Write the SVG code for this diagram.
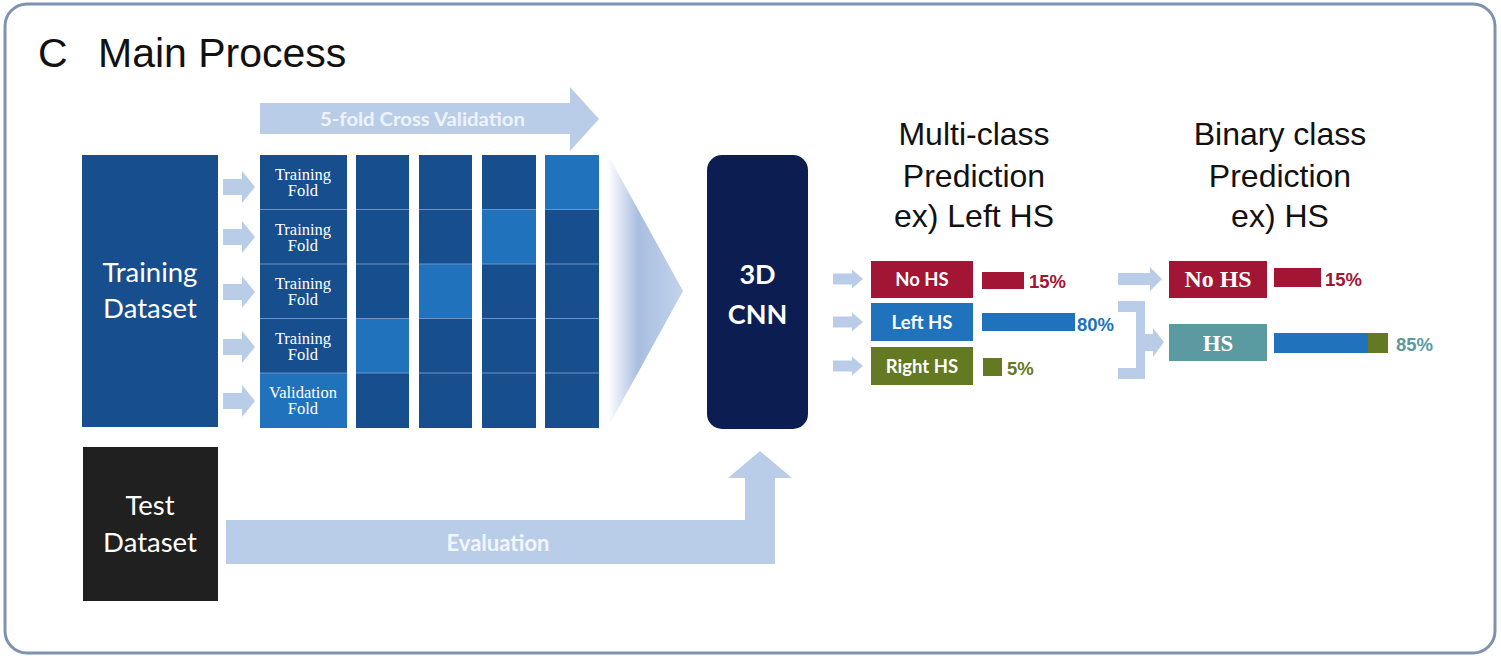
<svg xmlns="http://www.w3.org/2000/svg" width="1501" height="658" viewBox="0 0 1501 658">
<style>
.sans{font-family:"Liberation Sans",Arial,sans-serif}
.cal{font-family:Lato,"Open Sans",sans-serif}
.ser{font-family:"Liberation Serif","Times New Roman",serif}
.arr{fill:#b9cde9}
.dark{fill:#174e8e}
.light{fill:#2072bd}
.head{font-size:32px;fill:#111;text-anchor:middle}
.fold{font-size:16.5px;fill:#ffffff;text-anchor:middle}
.lbl{font-size:18.5px;font-weight:bold;fill:#ffffff;text-anchor:middle}
.pct{font-size:18.5px;font-weight:bold}
.sep{stroke:#6f93c6;stroke-width:1}
</style>
<defs>
<linearGradient id="chev" x1="608" y1="0" x2="683" y2="0" gradientUnits="userSpaceOnUse">
<stop offset="0" stop-color="#ffffff"/>
<stop offset="0.4" stop-color="#a9bee0"/>
<stop offset="1" stop-color="#c2d3ec"/>
</linearGradient>
<path id="sa" d="M0,-8 H19 V-16 L32,0 L19,16 V8 H0 Z"/>
<path id="ma" d="M0,-5.5 H19 V-9.5 L30,0 L19,9.5 V5.5 H0 Z"/>
</defs>
<rect x="5" y="4" width="1490" height="649" rx="22" fill="#ffffff" stroke="#7d93b2" stroke-width="3"/>
<text x="38" y="67" class="sans" font-size="41" fill="#111">C</text>
<text x="98" y="67" class="sans" font-size="41" fill="#111">Main Process</text>

<g id="connectors">
<path class="arr" d="M260,103 H570 V87 L599,119 L570,151 V134 H260 Z"/>
<text x="422.5" y="126" class="cal" font-size="19" font-weight="bold" fill="#eef3fa" text-anchor="middle" textLength="205" lengthAdjust="spacingAndGlyphs">5-fold Cross Validation</text>
<use href="#sa" class="arr" x="223" y="187"/>
<use href="#sa" class="arr" x="223" y="237"/>
<use href="#sa" class="arr" x="223" y="292"/>
<use href="#sa" class="arr" x="223" y="347"/>
<use href="#sa" class="arr" x="223" y="401"/>
<polygon points="608,155 683,291 608,427" fill="url(#chev)"/>
<path class="arr" d="M226,520 H745 V478 H728 L760,451 L792,478 H775 V564 H226 Z"/>
<text x="498" y="551" class="cal" font-size="22" font-weight="bold" fill="#f2f6fb" text-anchor="middle">Evaluation</text>
<use href="#ma" class="arr" x="833" y="279"/>
<use href="#ma" class="arr" x="833" y="322"/>
<use href="#ma" class="arr" x="833" y="366"/>
<path class="arr" d="M1118,273 H1150 V267 L1162,279 L1150,291 V285 H1118 Z"/>
<path class="arr" d="M1118,301 H1145 V334 H1153 V328 L1164,342 L1153,357 V351 H1145 V379 H1118 V368 H1136 V312 H1118 Z"/>
</g>

<g id="training-dataset">
<rect x="82" y="155" width="136" height="272" class="dark"/>
<text x="150" y="282" class="cal" font-size="27.5" fill="#ffffff" text-anchor="middle">Training</text>
<text x="150" y="318" class="cal" font-size="27.5" fill="#ffffff" text-anchor="middle">Dataset</text>
</g>

<g id="test-dataset">
<rect x="83" y="447" width="135" height="154" fill="#202020"/>
<text x="150" y="515" class="cal" font-size="27.5" fill="#ffffff" text-anchor="middle">Test</text>
<text x="150" y="552" class="cal" font-size="27.5" fill="#ffffff" text-anchor="middle">Dataset</text>
</g>

<g id="folds">
<rect x="260" y="155" width="87" height="218" class="dark"/>
<rect x="260" y="373" width="87" height="55" class="light"/>
<rect x="356" y="155" width="53" height="273" class="dark"/>
<rect x="356" y="318.5" width="53" height="54.5" class="light"/>
<rect x="419" y="155" width="53" height="273" class="dark"/>
<rect x="419" y="264" width="53" height="54.5" class="light"/>
<rect x="482" y="155" width="54" height="273" class="dark"/>
<rect x="482" y="209.5" width="54" height="54.5" class="light"/>
<rect x="545" y="155" width="54" height="273" class="dark"/>
<rect x="545" y="155" width="54" height="54.5" class="light"/>
<g class="sep">
<line x1="260" y1="209.5" x2="347" y2="209.5"/><line x1="260" y1="264" x2="347" y2="264"/><line x1="260" y1="318.5" x2="347" y2="318.5"/><line x1="260" y1="373" x2="347" y2="373"/>
<line x1="356" y1="209.5" x2="409" y2="209.5"/><line x1="356" y1="264" x2="409" y2="264"/><line x1="356" y1="318.5" x2="409" y2="318.5"/><line x1="356" y1="373" x2="409" y2="373"/>
<line x1="419" y1="209.5" x2="472" y2="209.5"/><line x1="419" y1="264" x2="472" y2="264"/><line x1="419" y1="318.5" x2="472" y2="318.5"/><line x1="419" y1="373" x2="472" y2="373"/>
<line x1="482" y1="209.5" x2="536" y2="209.5"/><line x1="482" y1="264" x2="536" y2="264"/><line x1="482" y1="318.5" x2="536" y2="318.5"/><line x1="482" y1="373" x2="536" y2="373"/>
<line x1="545" y1="209.5" x2="599" y2="209.5"/><line x1="545" y1="264" x2="599" y2="264"/><line x1="545" y1="318.5" x2="599" y2="318.5"/><line x1="545" y1="373" x2="599" y2="373"/>
</g>
<g class="ser">
<text x="303" y="180" class="fold">Training</text><text x="303" y="196" class="fold">Fold</text>
<text x="303" y="234.5" class="fold">Training</text><text x="303" y="250.5" class="fold">Fold</text>
<text x="303" y="289" class="fold">Training</text><text x="303" y="305" class="fold">Fold</text>
<text x="303" y="343.5" class="fold">Training</text><text x="303" y="359.5" class="fold">Fold</text>
<text x="303" y="398" class="fold">Validation</text><text x="303" y="414" class="fold">Fold</text>
</g>
</g>

<g id="cnn">
<rect x="707" y="155" width="101" height="274" rx="15" fill="#0b1d51"/>
<text x="757.5" y="284" class="cal" font-size="27" font-weight="bold" fill="#ffffff" text-anchor="middle">3D</text>
<text x="757.5" y="324" class="cal" font-size="27" font-weight="bold" fill="#ffffff" text-anchor="middle">CNN</text>
</g>

<g id="multi-title" class="sans">
<text x="974" y="145" class="head">Multi-class</text>
<text x="974" y="187" class="head">Prediction</text>
<text x="974" y="227" class="head">ex) Left HS</text>
</g>
<g id="binary-title" class="sans">
<text x="1280" y="145" class="head">Binary class</text>
<text x="1280" y="187" class="head">Prediction</text>
<text x="1280" y="227" class="head">ex) HS</text>
</g>

<g id="multi-nohs">
<rect x="871" y="261" width="102" height="37" fill="#a31535"/>
<text x="922" y="286" class="cal lbl">No HS</text>
<rect x="982" y="272" width="42" height="17" fill="#a31535"/>
<text x="1029" y="288" class="sans pct" fill="#a31535">15%</text>
</g>
<g id="multi-lefths">
<rect x="871" y="303" width="102" height="38" fill="#2072bd"/>
<text x="922" y="329" class="cal lbl">Left HS</text>
<rect x="982" y="313" width="93" height="18" fill="#2072bd"/>
<text x="1077" y="331" class="sans pct" fill="#2072bd">80%</text>
</g>
<g id="multi-righths">
<rect x="871" y="347" width="102" height="38" fill="#647a22"/>
<text x="922" y="373" class="cal lbl">Right HS</text>
<rect x="983" y="358" width="19" height="18" fill="#647a22"/>
<text x="1007" y="375" class="sans pct" fill="#647a22">5%</text>
</g>

<g id="binary-nohs">
<rect x="1169" y="261" width="98" height="37" fill="#a31535"/>
<text x="1218" y="287" class="ser" font-size="23" font-weight="bold" fill="#ffffff" text-anchor="middle" textLength="67" lengthAdjust="spacingAndGlyphs">No HS</text>
<rect x="1274" y="268" width="47" height="19" fill="#a31535"/>
<text x="1325" y="286" class="sans pct" fill="#a31535">15%</text>
</g>
<g id="binary-hs">
<rect x="1169" y="324" width="98" height="37" fill="#5a9aa0"/>
<text x="1218" y="351" class="ser" font-size="23" font-weight="bold" fill="#ffffff" text-anchor="middle">HS</text>
<rect x="1274" y="333" width="94" height="20" fill="#2072bd"/>
<rect x="1368" y="333" width="20" height="20" fill="#647a22"/>
<text x="1396" y="351" class="sans pct" fill="#5a9aa0">85%</text>
</g>
</svg>
